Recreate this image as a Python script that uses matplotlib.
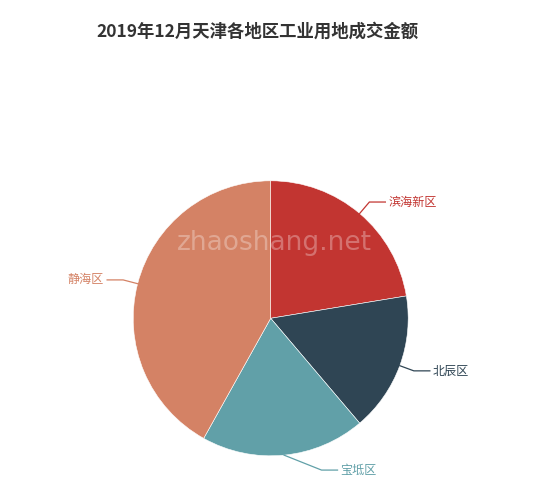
import numpy as np
import matplotlib
matplotlib.use("Agg")
import matplotlib.pyplot as plt

plt.rcParams['font.family'] = ['Noto Sans CJK SC', 'DejaVu Sans']

# data (share of transaction amount)
districts = ['滨海新区', '北辰区', '宝坻区', '静海区']
values = [22.4, 16.4, 19.3, 41.9]
colors = ['#c23531', '#2f4554', '#61a0a8', '#d48265']
title = '2019年12月天津各地区工业用地成交金额'

W, H = 550, 490
cx, cy, r = 270.7, H - 318.3, 137.5

fig = plt.figure(figsize=(W / 100, H / 100), dpi=100)
ax = fig.add_axes([0, 0, 1, 1])

wedges, _ = ax.pie(values, colors=colors, startangle=90, counterclock=False,
                   center=(cx, cy), radius=r,
                   wedgeprops=dict(edgecolor='white', linewidth=0.4))
ax.set_aspect('auto')
ax.set_xlim(0, W)
ax.set_ylim(0, H)
ax.axis('off')

# label lines, echarts style
len1, len2 = 15, 16
shift = {'宝坻区': (36, 0)}
for w, name, col in zip(wedges, districts, colors):
    ang = np.deg2rad((w.theta1 + w.theta2) / 2)
    ux, uy = np.cos(ang), np.sin(ang)
    x0, y0 = cx + r * ux, cy + r * uy
    x1, y1 = cx + (r + len1) * ux, cy + (r + len1) * uy
    sx, sy = shift.get(name, (0, 0))
    x1 += sx
    y1 += sy
    side = 1 if ux >= 0 else -1
    x2 = x1 + side * len2
    ax.plot([x0, x1, x2], [y0, y1, y1], color=col, lw=0.9, solid_joinstyle='miter')
    ax.text(x2 + side * 3, y1, name, color=col, fontsize=8.7,
            ha='left' if side > 0 else 'right', va='center')

ax.text(274.5, H - 243, 'zhaoshang.net', color='white', alpha=0.3,
        fontsize=19, family='DejaVu Sans', ha='center', va='center')

fig.text(257.7 / W, 1 - 32 / H, title, fontsize=12.5, fontweight='bold',
         color='#333333', ha='center', va='center')

fig.savefig('out.png', dpi=100)
